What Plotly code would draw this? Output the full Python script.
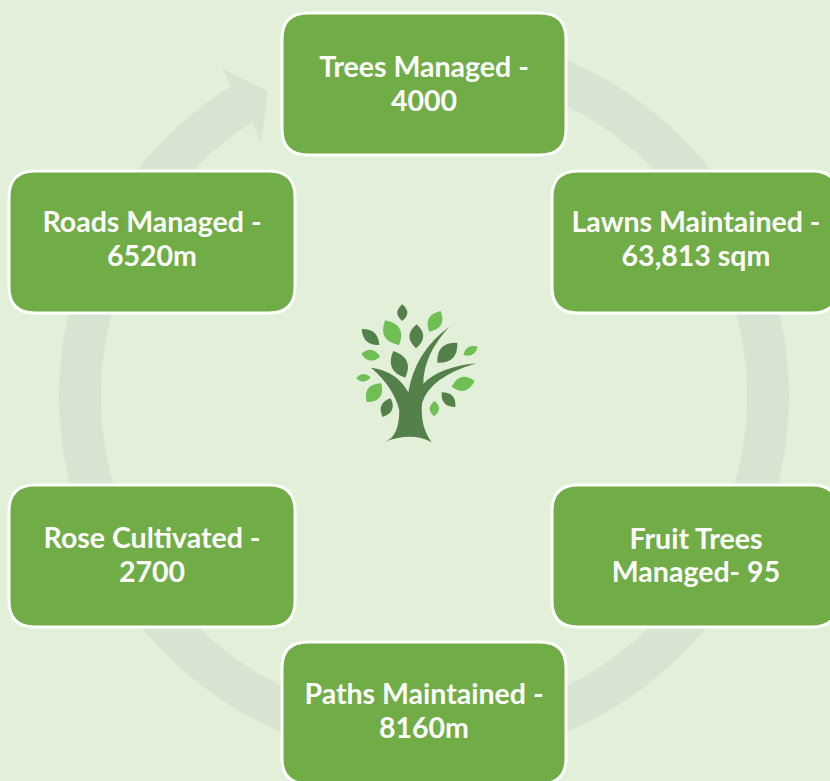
import numpy as np
import plotly.graph_objects as go

# Diagram content
first_lines = ["Trees Managed -", "Lawns Maintained -", "Fruit Trees", "Paths Maintained -", "Rose Cultivated -", "Roads Managed -"]
second_lines = ["4000", "63,813 sqm", "Managed- 95", "8160m", "2700", "6520m"]
box_left = [282, 552, 552, 282, 9, 9]
box_right = [566, 838, 838, 566, 295, 295]
box_top = [13, 171, 485, 642, 485, 171]
box_bottom = [155, 313, 627, 784, 627, 313]
text_x = [424, 696, 696, 424, 152, 152]
first_y = [70, 225, 542, 697, 541, 225]
second_y = [104, 259, 575, 731, 575, 259]

BG = "#E2F0D9"
RING = "#D6E4D1"
GREEN = "#70AD47"
DARK = "#548049"
LIGHT = "#6FBF54"

ring_cx, ring_cy = 424, 396
ring_outer, ring_inner = 365, 323
ring_end_deg = 328
head = [(223, 69), (268, 91), (261, 144)]

# tree icon, in a 3x local drawing grid
tree_ox, tree_oy = 340, 295
dark_leaves = [((187, 28), (187, 78), 26), ((65, 102), (118, 150), 30), ((230, 88), (228, 160), 36),
               ((352, 143), (292, 203), 40), ((160, 168), (196, 248), 42), ((305, 292), (346, 336), 28),
               ((152, 310), (128, 366), 30)]
light_leaves = [((302, 48), (268, 110), 36), ((135, 76), (178, 150), 44), ((64, 176), (120, 185), 28),
                ((413, 155), (370, 180), 22), ((48, 250), (92, 247), 20), ((124, 265), (80, 322), 38),
                ((404, 258), (335, 275), 36), ((284, 318), (282, 364), 24)]
trunk = [("M", 135, 440), ("Q", 178, 425, 178, 345), ("Q", 160, 275, 93, 218), ("Q", 170, 228, 205, 292),
         ("Q", 225, 170, 328, 95), ("Q", 250, 180, 250, 266), ("Q", 300, 215, 410, 205), ("Q", 270, 245, 246, 325),
         ("Q", 240, 395, 275, 442), ("Q", 215, 410, 135, 440)]


def tx(x):
    return tree_ox + x / 3


def ty(y):
    return tree_oy + y / 3


def leaf_path(a, b, w):
    ax, ay, bx, by = tx(a[0]), ty(a[1]), tx(b[0]), ty(b[1])
    dx, dy = bx - ax, by - ay
    n = np.hypot(dx, dy)
    ux, uy = -dy / n, dx / n
    k = w / 2.6
    mx, my = (ax + bx) / 2, (ay + by) / 2
    return (f"M{ax:.1f},{ay:.1f} Q{mx + ux * k:.1f},{my + uy * k:.1f} {bx:.1f},{by:.1f} "
            f"Q{mx - ux * k:.1f},{my - uy * k:.1f} {ax:.1f},{ay:.1f} Z")


def trunk_path(segs):
    out = []
    for s in segs:
        pts = [f"{tx(s[i]):.1f},{ty(s[i + 1]):.1f}" for i in range(1, len(s), 2)]
        out.append(s[0] + " ".join(pts))
    return " ".join(out) + " Z"


def rounded(l, r, t, b, q=26):
    return (f"M{l + q},{t} L{r - q},{t} Q{r},{t} {r},{t + q} L{r},{b - q} Q{r},{b} {r - q},{b} "
            f"L{l + q},{b} Q{l},{b} {l},{b - q} L{l},{t + q} Q{l},{t} {l + q},{t} Z")


def ring_path():
    ang = np.radians(np.linspace(0, ring_end_deg, 240))
    ox = ring_cx + ring_outer * np.sin(ang)
    oy = ring_cy - ring_outer * np.cos(ang)
    ix = ring_cx + ring_inner * np.sin(ang)
    iy = ring_cy - ring_inner * np.cos(ang)
    pts = list(zip(ox, oy)) + head + list(zip(ix[::-1], iy[::-1]))
    return "M" + " L".join(f"{x:.1f},{y:.1f}" for x, y in pts) + " Z"


shapes = [dict(type="path", path=ring_path(), fillcolor=RING, line_width=0, layer="below")]
for l, r, t, b in zip(box_left, box_right, box_top, box_bottom):
    shapes.append(dict(type="path", path=rounded(l, r, t, b), fillcolor=GREEN,
                       line=dict(color="white", width=3), layer="below"))
for a, b, w in dark_leaves:
    shapes.append(dict(type="path", path=leaf_path(a, b, w), fillcolor=DARK, line_width=0, layer="below"))
for a, b, w in light_leaves:
    shapes.append(dict(type="path", path=leaf_path(a, b, w), fillcolor=LIGHT, line_width=0, layer="below"))
shapes.append(dict(type="path", path=trunk_path(trunk), fillcolor=DARK, line_width=0, layer="below"))

fig = go.Figure(go.Scatter(x=text_x + text_x, y=first_y + second_y, text=first_lines + second_lines,
                           mode="text", hoverinfo="skip", textposition="middle center",
                           textfont=dict(family="Lato", size=28.5, color="white", weight="bold")))
fig.update_layout(width=830, height=781, margin=dict(l=0, r=0, t=0, b=0), paper_bgcolor=BG, plot_bgcolor=BG,
                  showlegend=False, shapes=shapes,
                  xaxis=dict(range=[0, 830], visible=False, fixedrange=True),
                  yaxis=dict(range=[781, 0], visible=False, fixedrange=True))
fig.write_html("out.html", config={"displayModeBar": False},
               post_script="document.body.style.margin='0';document.body.style.overflow='hidden';"
                           "document.body.style.background='#E2F0D9';")
